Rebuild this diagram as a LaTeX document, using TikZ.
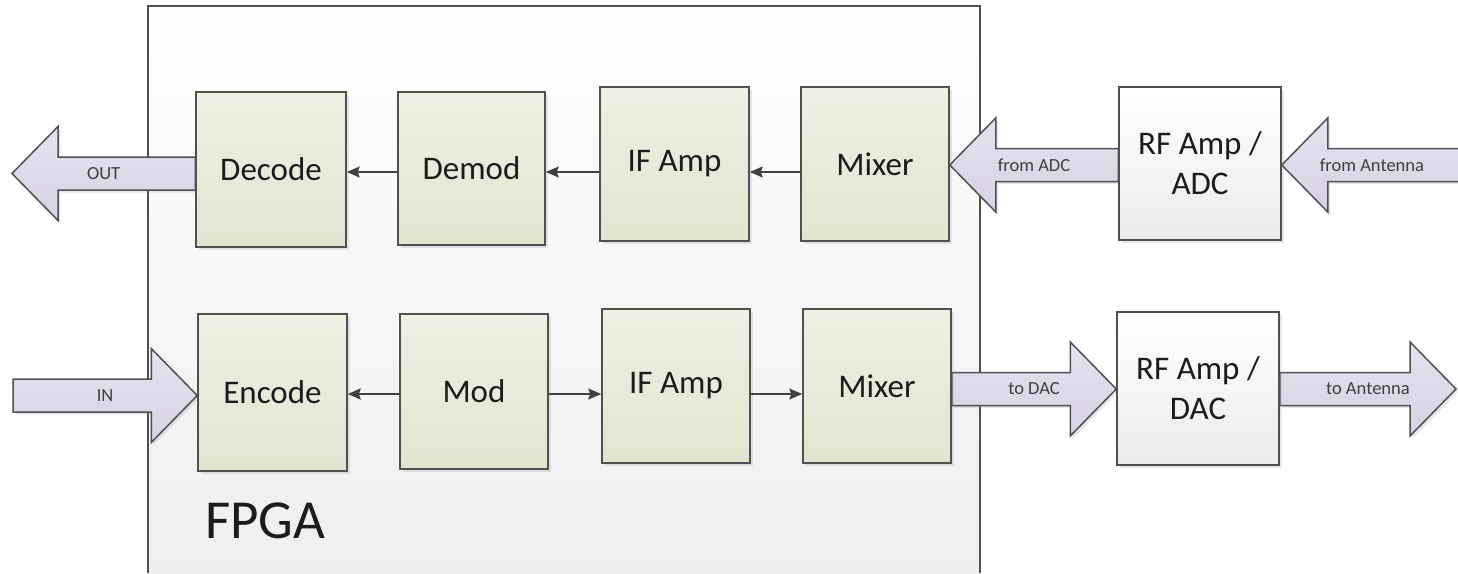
\documentclass[tikz,border=0pt]{standalone}
\usepackage{fontspec}
\setmainfont{Carlito}
\usetikzlibrary{arrows.meta,shadows,calc}

\definecolor{edge}{HTML}{505050}
\definecolor{wire}{HTML}{404040}
\definecolor{ink}{HTML}{1C1C1C}
\definecolor{greentop}{HTML}{EEF1E3}
\definecolor{greenbot}{HTML}{E0E5D0}
\definecolor{greytop}{HTML}{FFFFFF}
\definecolor{greybot}{HTML}{EBEBEB}
\definecolor{liltop}{HTML}{E6E2EF}
\definecolor{lilbot}{HTML}{D7D1E4}
\definecolor{chiptop}{HTML}{FEFEFE}
\definecolor{chipbot}{HTML}{EFEFEF}

\pgfdeclarelayer{back}
\pgfdeclarelayer{mid}
\pgfsetlayers{back,mid,main}

\tikzset{
  softshadow/.style={drop shadow={opacity=0.18, shadow xshift=2.5pt, shadow yshift=-2.5pt}},
  blockbox/.style={draw=edge, line width=1.5pt, top color=greentop, bottom color=greenbot,
    inner sep=0pt, align=center, text=ink, font=\fontsize{33}{40}\selectfont, softshadow},
  rfbox/.style={blockbox, top color=greytop, bottom color=greybot},
  conn/.style={draw=wire, line width=1.5pt, -{Stealth[length=13pt, width=11pt, inset=2pt]}},
  fatarrow/.style={draw=edge, line width=1.5pt, top color=liltop, bottom color=lilbot,
    line join=miter, softshadow},
  arrowlabel/.style={text=ink!85, font=\fontsize{18.5}{20}\selectfont, inner sep=0pt}
}

% hollow block arrow: tail, tip, reference for the axis height, label, label name
\newcommand\fatarrow[5]{%
  \path[fatarrow] let \p1=(#1), \p2=(#2), \p3=(#3), \n1={sign(\x2-\x1)} in
    (\x1,\y3+16.5pt) -- ({\x2-(\n1)*46pt},\y3+16.5pt) -- ({\x2-(\n1)*46pt},\y3+47pt)
    -- (\x2,\y3) -- ({\x2-(\n1)*46pt},\y3-47pt) -- ({\x2-(\n1)*46pt},\y3-16.5pt)
    -- (\x1,\y3-16.5pt) -- cycle
    node[arrowlabel] (#5) at ({(\x1+\x2)/2},\y3) {#4};
}

\begin{document}
\begin{tikzpicture}[x=1pt, y=-1pt]
  \useasboundingbox (0,0) rectangle (1458,573);

  \begin{pgfonlayer}{back}
    \fill[white] (0,0) rectangle (1458,573);
    % FPGA outline, open at the bottom
    \path[top color=chiptop, bottom color=chipbot] (148,6) rectangle (980,573);
    \draw[edge, line width=1.5pt] (148,573) -- (148,6) -- (980,6) -- (980,573);
  \end{pgfonlayer}
  \node[anchor=base west, inner sep=0pt, text=ink, font=\fontsize{55}{60}\selectfont]
    (fpga) at (205,538) {FPGA};

  % free ends and row heights
  \coordinate (outtip)  at (12,173.5);
  \coordinate (intail)  at (13,395.5);
  \coordinate (anttail) at (1462,165);
  \coordinate (anttip)  at (1456,389);
  \coordinate (rowA)    at (0,172);
  \coordinate (rowB)    at (0,394);

  % receive chain
  \node[blockbox, minimum width=150pt, minimum height=155pt] (dec)   at (271,169.5)  {Decode};
  \node[blockbox, minimum width=147pt, minimum height=153pt] (demod) at (471.5,168.5) {Demod};
  \node[blockbox, minimum width=149pt, minimum height=154pt] (ifa1)  at (674.5,164)  {IF Amp};
  \node[blockbox, minimum width=148pt, minimum height=154pt] (mix1)  at (875,164)    {Mixer};
  \node[rfbox,    minimum width=162pt, minimum height=153pt] (rfadc) at (1200,163.5) {RF Amp /\\ADC};

  % transmit chain
  \node[blockbox, minimum width=149pt, minimum height=157pt] (enc)   at (272.5,392.5) {Encode};
  \node[blockbox, minimum width=148pt, minimum height=155pt] (mod)   at (474,391.5)  {Mod};
  \node[blockbox, minimum width=148pt, minimum height=154pt] (ifa2)  at (676,386)    {IF Amp};
  \node[blockbox, minimum width=148pt, minimum height=154pt] (mix2)  at (877,386)    {Mixer};
  \node[rfbox,    minimum width=162pt, minimum height=153pt] (rfdac) at (1198,388.5) {RF Amp /\\DAC};

  % block arrows, kept behind the boxes they touch
  \begin{pgfonlayer}{mid}
    \fatarrow{dec.west}{outtip}{outtip}{OUT}{lout}
    \fatarrow{intail}{enc.west}{intail}{IN}{lin}
    \fatarrow{rfadc.west}{mix1.east}{anttail}{from ADC}{lfadc}
    \fatarrow{anttail}{rfadc.east}{anttail}{from Antenna}{lfant}
    \fatarrow{mix2.east}{rfdac.west}{anttip}{to DAC}{ltdac}
    \fatarrow{rfdac.east}{anttip}{anttip}{to Antenna}{ltant}
  \end{pgfonlayer}

  % signal flow inside the FPGA
  \draw[conn] (mix1.west |- rowA) -- (ifa1.east |- rowA);
  \draw[conn] (ifa1.west |- rowA) -- (demod.east |- rowA);
  \draw[conn] (demod.west |- rowA) -- (dec.east |- rowA);
  \draw[conn, line width=2.4pt] (mod.west |- rowB) -- (enc.east |- rowB);
  \draw[conn] (mod.east |- rowB) -- (ifa2.west |- rowB);
  \draw[conn] (ifa2.east |- rowB) -- (mix2.west |- rowB);
\end{tikzpicture}
\end{document}
